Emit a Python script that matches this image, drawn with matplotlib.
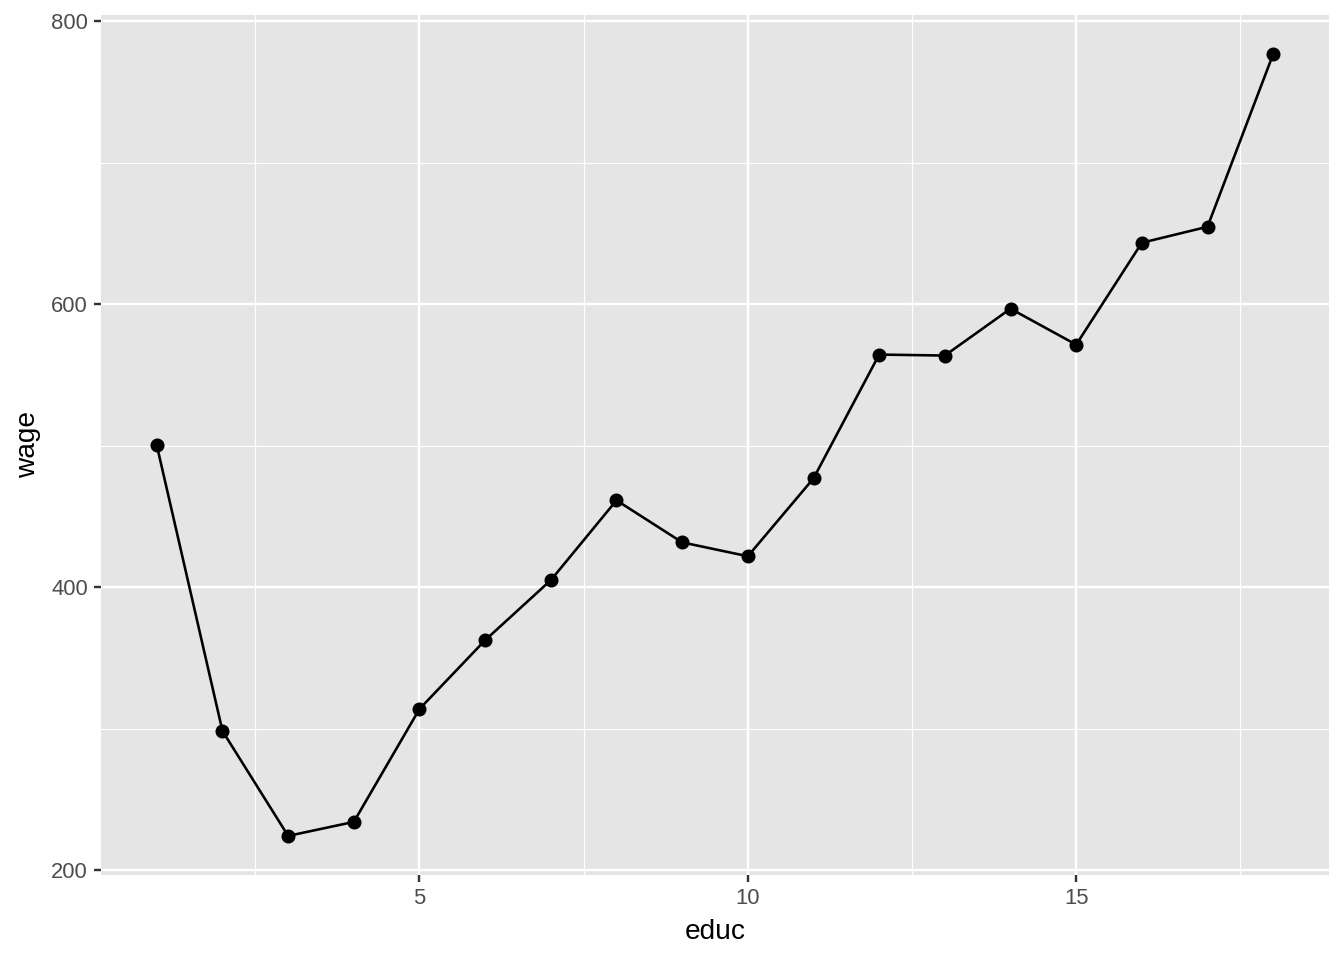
import matplotlib
matplotlib.use("Agg")
import matplotlib.pyplot as plt
import numpy as np

educ = [1, 2, 3, 4, 5, 6, 7, 8, 9, 10, 11, 12, 13, 14, 15, 16, 17, 18]
wage = [500.2, 298.4, 224.3, 234.2, 314.0, 362.6, 405.0, 461.4, 431.7,
        421.9, 476.9, 564.4, 563.7, 596.8, 571.4, 643.4, 654.7, 776.7]

plt.rcParams['font.family'] = ['Liberation Sans', 'DejaVu Sans']

fig = plt.figure(figsize=(1344 / 144, 960 / 144), dpi=144)
ax = fig.add_axes([101 / 1344, 85 / 960, (1329 - 101) / 1344, (945 - 85) / 960])
ax.set_facecolor('#e5e5e5')

# ggplot style expansion (5% each side)
def expand(v):
    lo, hi = min(v), max(v)
    d = (hi - lo) * 0.05
    return lo - d, hi + d

ax.set_xlim(*expand(educ))
ax.set_ylim(*expand(wage))

ax.set_xticks([5, 10, 15])
ax.set_yticks([200, 400, 600, 800])
ax.set_xticks([2.5, 7.5, 12.5, 17.5], minor=True)
ax.set_yticks([300, 500, 700], minor=True)

ax.grid(which='major', color='white', linewidth=1.2)
ax.grid(which='minor', color='white', linewidth=0.6)
ax.set_axisbelow(True)
for s in ax.spines.values():
    s.set_visible(False)

ax.tick_params(which='major', length=3.5, width=1.2, color='#333333',
               labelsize=11, labelcolor='#4d4d4d', pad=3)
ax.tick_params(which='minor', length=0)

ax.plot(educ, wage, color='black', linewidth=1.3, zorder=3)
ax.plot(educ, wage, 'o', color='black', markersize=6, zorder=4)

ax.set_xlabel('educ', fontsize=14, color='black', labelpad=5)
ax.set_ylabel('wage', fontsize=14, color='black', labelpad=5)

fig.savefig('out.png', dpi=144, facecolor='white')
